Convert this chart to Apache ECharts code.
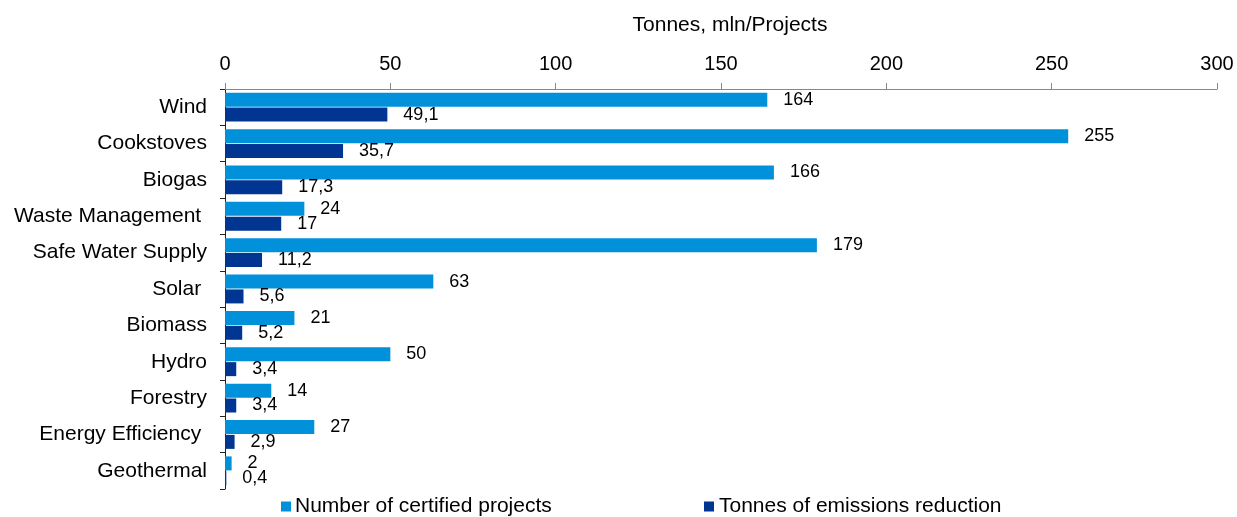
<!DOCTYPE html>
<html>
<head>
<meta charset="utf-8">
<script src="https://cdn.jsdelivr.net/npm/echarts@6/dist/echarts.min.js"></script>
<style>
  html, body { margin: 0; padding: 0; background: #fff; }
  #chart { width: 1237px; height: 517px; }
</style>
</head>
<body>
<div id="chart"></div>
<script>
// Certified projects and emission reductions by project type
const categories = ['Wind', 'Cookstoves', 'Biogas', 'Waste Management ', 'Safe Water Supply',
  'Solar ', 'Biomass', 'Hydro', 'Forestry', 'Energy Efficiency ', 'Geothermal'];
const projects = [164, 255, 166, 24, 179, 63, 21, 50, 14, 27, 2];
const tonnes = [49.1, 35.7, 17.3, 17, 11.2, 5.6, 5.2, 3.4, 3.4, 2.9, 0.4];
const xTicks = { min: 0, max: 300, interval: 50 };
const seriesNames = ['Number of certified projects', 'Tonnes of emissions reduction'];

const FONT = '"Liberation Sans", Arial, sans-serif';
const LIGHT = '#0091da';
const DARK = '#003591';

// decimal comma, as in the printed values
const fmt = v => String(v).replace('.', ',');

const chart = echarts.init(document.getElementById('chart'), null, { renderer: 'canvas' });
chart.setOption({
  animation: false,
  backgroundColor: '#fff',
  textStyle: { fontFamily: FONT, color: '#000' },
  grid: { left: 225, right: 20, top: 89, height: 400, containLabel: false },
  xAxis: {
    type: 'value',
    position: 'top',
    min: xTicks.min, max: xTicks.max, interval: xTicks.interval,
    name: 'Tonnes, mln/Projects',
    nameLocation: 'middle',
    nameGap: 53,
    nameTextStyle: { fontFamily: FONT, fontSize: 21, color: '#000', padding: [0, 0, 0, 18] },
    axisLine: { show: true, lineStyle: { color: '#888', width: 1 } },
    axisTick: { show: true, length: 6, lineStyle: { color: '#888' } },
    axisLabel: { fontFamily: FONT, fontSize: 20, color: '#000', margin: 15 },
    splitLine: { show: false }
  },
  yAxis: {
    type: 'category',
    inverse: true,
    data: categories,
    axisLine: { show: true, lineStyle: { color: '#222', width: 1 } },
    axisTick: { show: true, length: 5, lineStyle: { color: '#222' } },
    axisLabel: { fontFamily: FONT, fontSize: 21, color: '#000', margin: 18 },
    splitLine: { show: false }
  },
  legend: [
    {
      left: 281, top: 496, padding: 0,
      icon: 'rect', itemWidth: 10, itemHeight: 10, itemGap: 5,
      data: [seriesNames[0]],
      textStyle: { fontFamily: FONT, fontSize: 21, color: '#000', padding: [0, 0, 0, -1] }
    },
    {
      left: 704, top: 496, padding: 0,
      icon: 'rect', itemWidth: 10, itemHeight: 10,
      data: [seriesNames[1]],
      textStyle: { fontFamily: FONT, fontSize: 21, color: '#000' }
    }
  ],
  series: [
    {
      name: seriesNames[0],
      type: 'bar',
      data: projects,
      barWidth: 14,
      barGap: '6%',
      itemStyle: { color: LIGHT },
      label: {
        show: true, position: 'right', distance: 16,
        fontFamily: FONT, fontSize: 18, color: '#000',
        formatter: p => fmt(p.value)
      }
    },
    {
      name: seriesNames[1],
      type: 'bar',
      data: tonnes,
      barWidth: 14,
      barGap: '6%',
      itemStyle: { color: DARK },
      label: {
        show: true, position: 'right', distance: 16,
        fontFamily: FONT, fontSize: 18, color: '#000',
        formatter: p => fmt(p.value)
      }
    }
  ]
});
</script>
</body>
</html>
